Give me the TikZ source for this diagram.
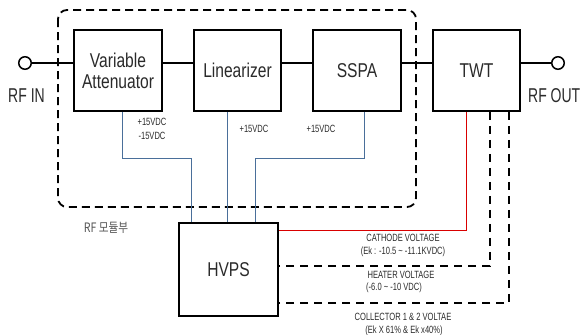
\documentclass[tikz,border=0pt]{standalone}
\usepackage{fontspec}
\setmainfont{Liberation Sans}
\newfontfamily\bigf{Liberation Sans}[FakeStretch=0.78]
\newfontfamily\rff{Liberation Sans}[FakeStretch=0.70]
\newfontfamily\smallf{Liberation Sans}[FakeStretch=0.72]
\newfontfamily\krf{Noto Sans CJK KR}[FakeStretch=0.82]
\definecolor{pwrblue}{HTML}{4A6F9A}
\definecolor{txtgray}{HTML}{2A2A2A}
\tikzset{
  blk/.style={draw=black, line width=1.8pt, fill=white, inner sep=0pt, minimum height=81pt, font=\bigf\fontsize{20}{21}\selectfont, align=center, text=txtgray},
  sig/.style={line width=1.8pt},
  port/.style={circle, draw=black, line width=1.5pt, fill=white, inner sep=0pt, minimum size=12.5pt},
  small/.style={font=\smallf\fontsize{10.5}{12}\selectfont, text=txtgray, inner sep=0pt, align=center},
  rflab/.style={font=\rff\fontsize{20}{21}\selectfont, text=txtgray, inner sep=0pt},
  pwr/.style={draw=pwrblue, line width=1pt},
  hv/.style={draw=red!85!black, line width=1pt},
  dline/.style={line width=1.2pt, dash pattern=on 8pt off 6pt},
  modbox/.style={line width=1.8pt, dash pattern=on 8pt off 5pt, rounded corners=9pt}
}
\begin{document}
\begin{tikzpicture}[x=1pt, y=-1pt]
\useasboundingbox (0,0) rectangle (582,335);
% module box
\draw[modbox] (58,10) rectangle (416,207);
% blocks
\node[blk, minimum width=88pt] (va) at (118,70.5) {Variable\\Attenuator};
\node[blk, minimum width=87pt] (lin) at (237.5,70.5) {Linearizer};
\node[blk, minimum width=88pt] (sspa) at (357,70.5) {SSPA};
\node[blk, minimum width=87pt] (twt) at (476.5,70.5) {TWT};
\node[blk, minimum width=99pt, minimum height=93pt] (hvps) at (228.5,269.5) {HVPS};
% ports
\node[port] (rfin) at (25,63) {};
\node[port] (rfout) at (558,63) {};
\node[rflab] (rfinl) at (26.5,95.5) {RF IN};
\node[rflab, anchor=east] (rfoutl) at (580.5,96) {RF OUT};
% signal path
\coordinate (my) at (0,63);
\draw[sig] (rfin.east) -- (va.west |- my);
\draw[sig] (va.east |- my) -- (lin.west |- my);
\draw[sig] (lin.east |- my) -- (sspa.west |- my);
\draw[sig] (sspa.east |- my) -- (twt.west |- my);
\draw[sig] (twt.east |- my) -- (rfout.west);
% power lines
\coordinate (vaB) at (122,111);
\coordinate (vaK) at (122,158);
\coordinate (hvA) at (191,158);
\coordinate (linB) at (227,111);
\coordinate (ssB) at (364,111);
\coordinate (ssK) at (364,158);
\coordinate (hvC) at (255,158);
\draw[pwr] (va.south -| vaB) -- (vaK) -- (hvA) -- (hvA |- hvps.north);
\draw[pwr] (lin.south -| linB) -- (linB |- hvps.north);
\draw[pwr] (sspa.south -| ssB) -- (ssK) -- (hvC) -- (hvC |- hvps.north);
% HV lines
\coordinate (cK) at (466,230);
\coordinate (hK) at (490,266);
\coordinate (kK) at (509,303);
\draw[hv] (twt.south -| cK) -- (cK) -- (hvps.east |- cK);
\draw[dline] (twt.south -| hK) -- (hK) -- (hvps.east |- hK);
\draw[dline] (twt.south -| kK) -- (kK) -- (hvps.east |- kK);
% labels
\node[small] (l1) at (152,122) {+15VDC};
\node[small] (l2) at (152,135.5) {-15VDC};
\node[small] (l3) at (254,129) {+15VDC};
\node[small] (l4) at (321,128.5) {+15VDC};
\node[small] (c1) at (403,238) {CATHODE VOLTAGE};
\node[small] (c2) at (403,251.5) {(Ek : -10.5 \textasciitilde\ -11.1KVDC)};
\node[small] (h1) at (401,274.5) {HEATER VOLTAGE};
\node[small] (h2) at (394,288) {(-6.0 \textasciitilde\ -10 VDC)};
\node[small] (k1) at (403,316.5) {COLLECTOR 1 \& 2 VOLTAE};
\node[small] (k2) at (404,330.5) {(Ek X 61\% \& Ek x40\%)};
\node[font=\krf\fontsize{13}{15}\selectfont, text=txtgray!80, inner sep=0pt] (rfm) at (106,228) {RF 모듈부};
\end{tikzpicture}
\end{document}
